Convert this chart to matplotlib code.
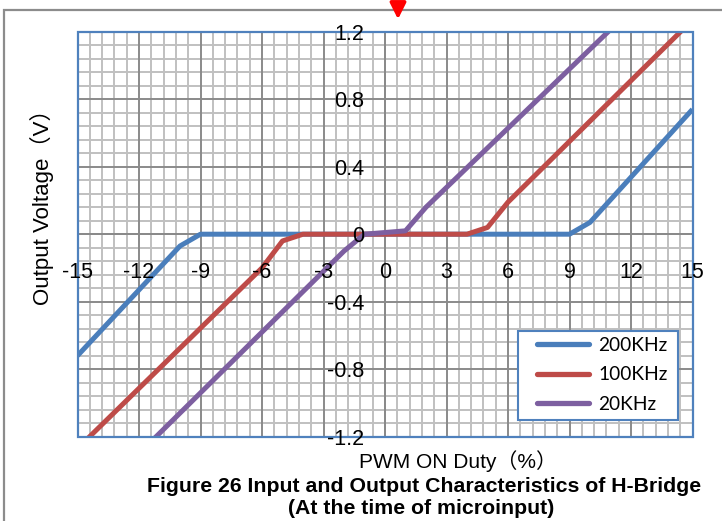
import matplotlib
matplotlib.use("Agg")
import matplotlib.pyplot as plt
from matplotlib.ticker import MultipleLocator
from matplotlib.patches import Rectangle, FancyArrowPatch

# ---------------------------------------------------------------
# data
# ---------------------------------------------------------------
duty_200k = [-15, -10, -9, 9, 10, 15]
volt_200k = [-0.72, -0.07, 0.0, 0.0, 0.07, 0.74]

duty_100k = [-15, -6, -5, -4, 4, 5, 6, 15]
volt_100k = [-1.27, -0.20, -0.04, 0.0, 0.0, 0.04, 0.19, 1.27]

duty_20k = [-12, -2, -1, 1, 2, 12]
volt_20k = [-1.30, -0.10, 0.0, 0.02, 0.16, 1.33]

series_labels = ["200KHz", "100KHz", "20KHz"]
series_colors = ["#4A7EBB", "#BE4B48", "#7D5FA0"]

x_ticks = [-15, -12, -9, -6, -3, 0, 3, 6, 9, 12, 15]
y_ticks = [-1.2, -0.8, -0.4, 0, 0.4, 0.8, 1.2]
y_tick_labels = ["-1.2", "-0.8", "-0.4", "0", "0.4", "0.8", "1.2"]

W, H = 722, 521
AX_FONT = ["Liberation Sans", "DejaVu Sans"]
LABEL_FONT = ["Liberation Sans", "Noto Sans CJK JP", "DejaVu Sans"]

fig = plt.figure(figsize=(W / 100, H / 100), dpi=100)
ax = fig.add_axes([77.5 / W, 1 - 436.7 / H, 615 / W, 405 / H])

for xs, ys, lab, col in zip([duty_200k, duty_100k, duty_20k],
                            [volt_200k, volt_100k, volt_20k],
                            series_labels, series_colors):
    ax.plot(xs, ys, color=col, lw=3.6, label=lab, solid_capstyle="butt",
            solid_joinstyle="round", zorder=5)

ax.set_xlim(-15, 15)
ax.set_ylim(-1.2, 1.2)

# grid (drawn as plain lines so the tick labels stay on top)
ax.xaxis.set_major_locator(MultipleLocator(3))
ax.xaxis.set_minor_locator(MultipleLocator(0.6))
ax.yaxis.set_major_locator(MultipleLocator(0.4))
ax.yaxis.set_minor_locator(MultipleLocator(0.08))
x0, x1 = ax.get_xlim()
y0, y1 = ax.get_ylim()
ax.vlines(ax.xaxis.get_minorticklocs(), y0, y1, color="#C0C0C0", lw=1.4, zorder=1)
ax.hlines(ax.yaxis.get_minorticklocs(), x0, x1, color="#C0C0C0", lw=1.4, zorder=1)
ax.vlines(ax.xaxis.get_majorticklocs(), y0, y1, color="#8A8A8A", lw=1.4, zorder=1.2)
ax.hlines(ax.yaxis.get_majorticklocs(), x0, x1, color="#8A8A8A", lw=1.4, zorder=1.2)

# axes crossing at zero
ax.spines["left"].set_position(("data", 0))
ax.spines["bottom"].set_position(("data", 0))
ax.spines["right"].set_visible(False)
ax.spines["top"].set_visible(False)
for s in ("left", "bottom"):
    ax.spines[s].set_color("#8A8A8A")
    ax.spines[s].set_linewidth(1.4)

ax.set_xticks(x_ticks)
ax.set_xticklabels([str(v) for v in x_ticks])
ax.set_yticks(y_ticks)
ax.set_yticklabels(y_tick_labels)
ax.tick_params(which="both", length=0)
ax.tick_params(axis="x", pad=20)
ax.tick_params(axis="y", pad=15)
for t in ax.get_xticklabels() + ax.get_yticklabels():
    t.set_fontfamily(AX_FONT)
    t.set_fontsize(15.5)
    t.set_color("black")
ax.xaxis.set_zorder(7)
ax.yaxis.set_zorder(7)

# plot area border
ax.add_patch(Rectangle((0, 0), 1, 1, transform=ax.transAxes, fill=False,
                       edgecolor="#4F81BD", lw=1.6, zorder=6, clip_on=False))

# legend box + entries
fig.patches.append(Rectangle((518 / W, 1 - 420 / H), 160 / W, 89 / H,
                             transform=fig.transFigure, facecolor="white",
                             edgecolor="#4F81BD", lw=1.5, zorder=8))
leg = fig.legend(loc="upper left", bbox_to_anchor=(537 / W, 1 - 337 / H),
                 frameon=False, borderaxespad=0, borderpad=0,
                 handlelength=2.7, handletextpad=0.5, labelspacing=0.64,
                 prop={"family": "Lato", "size": 13.8})
leg.set_zorder(9)
for line in leg.get_lines():
    line.set_linewidth(3.8)
    line.set_solid_capstyle("round")

# axis titles
fig.text(42 / W, 1 - 202 / H, "Output Voltage（V）", rotation=90,
         ha="center", va="center", fontsize=16, family=LABEL_FONT)
fig.text(458 / W, 1 - 461 / H, "PWM ON Duty（%）", ha="center", va="center",
         fontsize=15, family=LABEL_FONT)

# caption
CAP_FONT = ["Liberation Sans", "DejaVu Sans"]
fig.text(424 / W, 1 - 486 / H,
         "Figure 26 Input and Output Characteristics of H-Bridge",
         ha="center", va="center", fontsize=15.3, fontweight="bold", family=CAP_FONT)
fig.text(421 / W, 1 - 509 / H, "(At the time of microinput)",
         ha="center", va="center", fontsize=15.3, fontweight="bold", family=CAP_FONT)

# outer frame of the pasted chart
fig.patches.append(Rectangle((4 / W, -0.2), 1.2, 1.2 - 10 / H, transform=fig.transFigure,
                             fill=False, edgecolor="#8C8C8C", lw=1.6))

# red marker arrow on top
fig.patches.append(FancyArrowPatch(
    (398 / W, 1.0), (398 / W, 1 - 22 / H), transform=fig.transFigure,
    arrowstyle="-|>", mutation_scale=24, color="#FF0000", lw=2.6))

fig.savefig("out.png", dpi=100)
